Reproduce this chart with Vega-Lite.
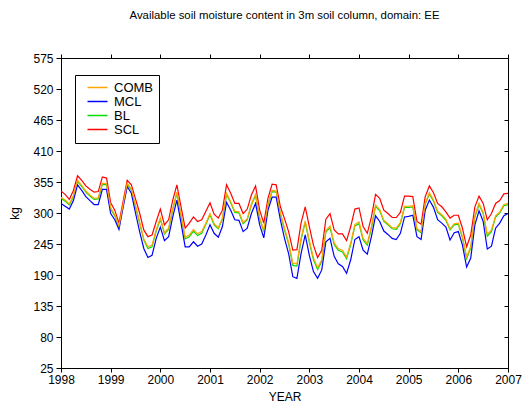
{
  "$schema": "https://vega.github.io/schema/vega-lite/v6.json",
  "width": 447,
  "height": 310,
  "autosize": {"type": "none"},
  "padding": {"left": 61, "top": 58, "right": 15, "bottom": 35},
  "title": {
    "text": "Available soil moisture content in 3m soil column, domain: EE",
    "fontSize": 11.4,
    "fontWeight": "normal",
    "color": "#000",
    "anchor": "middle",
    "offset": 31
  },
  "data": {
    "values": [
      {"t": 1998.0, "SCL": 339, "COMB": 328, "BL": 326, "MCL": 317},
      {"t": 1998.083, "SCL": 333, "COMB": 323, "BL": 321, "MCL": 312},
      {"t": 1998.167, "SCL": 324, "COMB": 316, "BL": 314, "MCL": 307},
      {"t": 1998.25, "SCL": 340, "COMB": 331, "BL": 329, "MCL": 322},
      {"t": 1998.333, "SCL": 366, "COMB": 358, "BL": 356, "MCL": 350},
      {"t": 1998.417, "SCL": 358, "COMB": 349, "BL": 347, "MCL": 340},
      {"t": 1998.5, "SCL": 348, "COMB": 339, "BL": 337, "MCL": 329},
      {"t": 1998.583, "SCL": 342, "COMB": 332, "BL": 330, "MCL": 322},
      {"t": 1998.667, "SCL": 337, "COMB": 326, "BL": 324, "MCL": 315},
      {"t": 1998.75, "SCL": 338, "COMB": 327, "BL": 325, "MCL": 315},
      {"t": 1998.833, "SCL": 364, "COMB": 353, "BL": 351, "MCL": 342},
      {"t": 1998.917, "SCL": 362, "COMB": 352, "BL": 350, "MCL": 342},
      {"t": 1999.0, "SCL": 318, "COMB": 309, "BL": 307, "MCL": 299},
      {"t": 1999.083, "SCL": 305, "COMB": 297, "BL": 295, "MCL": 288},
      {"t": 1999.167, "SCL": 282, "COMB": 277, "BL": 275, "MCL": 271},
      {"t": 1999.25, "SCL": 320, "COMB": 315, "BL": 313, "MCL": 310},
      {"t": 1999.333, "SCL": 358, "COMB": 353, "BL": 351, "MCL": 347},
      {"t": 1999.417, "SCL": 350, "COMB": 343, "BL": 341, "MCL": 335},
      {"t": 1999.5, "SCL": 325, "COMB": 313, "BL": 311, "MCL": 300},
      {"t": 1999.583, "SCL": 300, "COMB": 284, "BL": 282, "MCL": 267},
      {"t": 1999.667, "SCL": 270, "COMB": 254, "BL": 252, "MCL": 237},
      {"t": 1999.75, "SCL": 258, "COMB": 240, "BL": 237, "MCL": 221},
      {"t": 1999.833, "SCL": 261, "COMB": 243, "BL": 240, "MCL": 225},
      {"t": 1999.917, "SCL": 285, "COMB": 270, "BL": 268, "MCL": 255},
      {"t": 2000.0, "SCL": 307, "COMB": 291, "BL": 289, "MCL": 275},
      {"t": 2000.083, "SCL": 279, "COMB": 265, "BL": 263, "MCL": 251},
      {"t": 2000.167, "SCL": 288, "COMB": 273, "BL": 271, "MCL": 258},
      {"t": 2000.25, "SCL": 323, "COMB": 308, "BL": 306, "MCL": 293},
      {"t": 2000.333, "SCL": 350, "COMB": 337, "BL": 335, "MCL": 323},
      {"t": 2000.417, "SCL": 311, "COMB": 297, "BL": 295, "MCL": 282},
      {"t": 2000.5, "SCL": 273, "COMB": 257, "BL": 254, "MCL": 240},
      {"t": 2000.583, "SCL": 282, "COMB": 261, "BL": 258, "MCL": 240},
      {"t": 2000.667, "SCL": 293, "COMB": 271, "BL": 268, "MCL": 249},
      {"t": 2000.75, "SCL": 285, "COMB": 263, "BL": 260, "MCL": 241},
      {"t": 2000.833, "SCL": 288, "COMB": 267, "BL": 264, "MCL": 245},
      {"t": 2000.917, "SCL": 303, "COMB": 282, "BL": 280, "MCL": 261},
      {"t": 2001.0, "SCL": 318, "COMB": 299, "BL": 297, "MCL": 279},
      {"t": 2001.083, "SCL": 298, "COMB": 281, "BL": 279, "MCL": 264},
      {"t": 2001.167, "SCL": 291, "COMB": 274, "BL": 272, "MCL": 257},
      {"t": 2001.25, "SCL": 305, "COMB": 291, "BL": 289, "MCL": 276},
      {"t": 2001.333, "SCL": 350, "COMB": 335, "BL": 333, "MCL": 319},
      {"t": 2001.417, "SCL": 335, "COMB": 320, "BL": 318, "MCL": 305},
      {"t": 2001.5, "SCL": 317, "COMB": 303, "BL": 301, "MCL": 288},
      {"t": 2001.583, "SCL": 317, "COMB": 302, "BL": 300, "MCL": 287},
      {"t": 2001.667, "SCL": 299, "COMB": 283, "BL": 281, "MCL": 267},
      {"t": 2001.75, "SCL": 307, "COMB": 290, "BL": 288, "MCL": 273},
      {"t": 2001.833, "SCL": 332, "COMB": 316, "BL": 314, "MCL": 299},
      {"t": 2001.917, "SCL": 348, "COMB": 333, "BL": 331, "MCL": 317},
      {"t": 2002.0, "SCL": 305, "COMB": 292, "BL": 290, "MCL": 279},
      {"t": 2002.083, "SCL": 282, "COMB": 269, "BL": 267, "MCL": 256},
      {"t": 2002.167, "SCL": 326, "COMB": 316, "BL": 314, "MCL": 305},
      {"t": 2002.25, "SCL": 351, "COMB": 340, "BL": 338, "MCL": 328},
      {"t": 2002.333, "SCL": 350, "COMB": 339, "BL": 337, "MCL": 328},
      {"t": 2002.417, "SCL": 311, "COMB": 300, "BL": 298, "MCL": 288},
      {"t": 2002.5, "SCL": 290, "COMB": 273, "BL": 270, "MCL": 255},
      {"t": 2002.583, "SCL": 267, "COMB": 248, "BL": 245, "MCL": 228},
      {"t": 2002.667, "SCL": 234, "COMB": 211, "BL": 207, "MCL": 187},
      {"t": 2002.75, "SCL": 235, "COMB": 210, "BL": 206, "MCL": 184},
      {"t": 2002.833, "SCL": 282, "COMB": 255, "BL": 252, "MCL": 228},
      {"t": 2002.917, "SCL": 311, "COMB": 286, "BL": 284, "MCL": 261},
      {"t": 2003.0, "SCL": 276, "COMB": 251, "BL": 248, "MCL": 225},
      {"t": 2003.083, "SCL": 243, "COMB": 220, "BL": 217, "MCL": 196},
      {"t": 2003.167, "SCL": 221, "COMB": 203, "BL": 200, "MCL": 184},
      {"t": 2003.25, "SCL": 234, "COMB": 217, "BL": 214, "MCL": 199},
      {"t": 2003.333, "SCL": 289, "COMB": 269, "BL": 266, "MCL": 249},
      {"t": 2003.417, "SCL": 299, "COMB": 277, "BL": 274, "MCL": 255},
      {"t": 2003.5, "SCL": 270, "COMB": 247, "BL": 244, "MCL": 223},
      {"t": 2003.583, "SCL": 263, "COMB": 237, "BL": 234, "MCL": 210},
      {"t": 2003.667, "SCL": 263, "COMB": 234, "BL": 231, "MCL": 205},
      {"t": 2003.75, "SCL": 251, "COMB": 222, "BL": 219, "MCL": 193},
      {"t": 2003.833, "SCL": 276, "COMB": 247, "BL": 244, "MCL": 217},
      {"t": 2003.917, "SCL": 307, "COMB": 280, "BL": 277, "MCL": 253},
      {"t": 2004.0, "SCL": 309, "COMB": 284, "BL": 281, "MCL": 258},
      {"t": 2004.083, "SCL": 276, "COMB": 255, "BL": 252, "MCL": 234},
      {"t": 2004.167, "SCL": 264, "COMB": 246, "BL": 243, "MCL": 227},
      {"t": 2004.25, "SCL": 293, "COMB": 276, "BL": 273, "MCL": 258},
      {"t": 2004.333, "SCL": 333, "COMB": 314, "BL": 312, "MCL": 295},
      {"t": 2004.417, "SCL": 326, "COMB": 306, "BL": 304, "MCL": 285},
      {"t": 2004.5, "SCL": 305, "COMB": 287, "BL": 285, "MCL": 268},
      {"t": 2004.583, "SCL": 299, "COMB": 281, "BL": 279, "MCL": 262},
      {"t": 2004.667, "SCL": 292, "COMB": 274, "BL": 272, "MCL": 255},
      {"t": 2004.75, "SCL": 292, "COMB": 273, "BL": 271, "MCL": 253},
      {"t": 2004.833, "SCL": 301, "COMB": 283, "BL": 281, "MCL": 264},
      {"t": 2004.917, "SCL": 330, "COMB": 312, "BL": 310, "MCL": 293},
      {"t": 2005.0, "SCL": 330, "COMB": 312, "BL": 310, "MCL": 294},
      {"t": 2005.083, "SCL": 329, "COMB": 313, "BL": 311, "MCL": 296},
      {"t": 2005.167, "SCL": 285, "COMB": 272, "BL": 270, "MCL": 258},
      {"t": 2005.25, "SCL": 280, "COMB": 267, "BL": 265, "MCL": 253},
      {"t": 2005.333, "SCL": 329, "COMB": 317, "BL": 315, "MCL": 305},
      {"t": 2005.417, "SCL": 348, "COMB": 336, "BL": 334, "MCL": 323},
      {"t": 2005.5, "SCL": 336, "COMB": 323, "BL": 321, "MCL": 310},
      {"t": 2005.583, "SCL": 317, "COMB": 303, "BL": 301, "MCL": 288},
      {"t": 2005.667, "SCL": 311, "COMB": 297, "BL": 295, "MCL": 282},
      {"t": 2005.75, "SCL": 302, "COMB": 289, "BL": 287, "MCL": 275},
      {"t": 2005.833, "SCL": 291, "COMB": 272, "BL": 270, "MCL": 252},
      {"t": 2005.917, "SCL": 296, "COMB": 281, "BL": 279, "MCL": 265},
      {"t": 2006.0, "SCL": 296, "COMB": 282, "BL": 280, "MCL": 267},
      {"t": 2006.083, "SCL": 273, "COMB": 258, "BL": 256, "MCL": 243},
      {"t": 2006.167, "SCL": 240, "COMB": 222, "BL": 219, "MCL": 204},
      {"t": 2006.25, "SCL": 261, "COMB": 241, "BL": 238, "MCL": 220},
      {"t": 2006.333, "SCL": 311, "COMB": 295, "BL": 293, "MCL": 279},
      {"t": 2006.417, "SCL": 330, "COMB": 317, "BL": 315, "MCL": 304},
      {"t": 2006.5, "SCL": 317, "COMB": 301, "BL": 299, "MCL": 285},
      {"t": 2006.583, "SCL": 288, "COMB": 262, "BL": 259, "MCL": 236},
      {"t": 2006.667, "SCL": 299, "COMB": 270, "BL": 267, "MCL": 241},
      {"t": 2006.75, "SCL": 317, "COMB": 295, "BL": 293, "MCL": 273},
      {"t": 2006.833, "SCL": 322, "COMB": 302, "BL": 300, "MCL": 282},
      {"t": 2006.917, "SCL": 334, "COMB": 315, "BL": 313, "MCL": 295},
      {"t": 2007.0, "SCL": 335, "COMB": 317, "BL": 315, "MCL": 299}
    ]
  },
  "transform": [
    {"fold": ["BL", "MCL", "SCL", "COMB"], "as": ["model", "kg"]}
  ],
  "layer": [
    {
      "mark": {"type": "line", "strokeWidth": 1.2, "clip": true},
      "encoding": {
        "x": {
          "field": "t",
          "type": "quantitative",
          "scale": {"domain": [1998, 2007], "nice": false, "zero": false},
          "axis": {
            "orient": "bottom",
            "values": [1998, 1999, 2000, 2001, 2002, 2003, 2004, 2005, 2006, 2007],
            "format": "d",
            "title": "YEAR",
            "tickSize": 4,
            "labelPadding": 2,
            "titlePadding": 6,
            "labelFlush": false
          }
        },
        "y": {
          "field": "kg",
          "type": "quantitative",
          "scale": {"domain": [25, 575], "nice": false, "zero": false},
          "axis": {
            "orient": "left",
            "values": [25, 80, 135, 190, 245, 300, 355, 410, 465, 520, 575],
            "title": "kg",
            "tickSize": 5,
            "labelPadding": 3,
            "titlePadding": 11
          }
        },
        "color": {
          "field": "model",
          "type": "nominal",
          "scale": {
            "domain": ["COMB", "MCL", "BL", "SCL"],
            "range": ["#FFA500", "#0000FF", "#00DD00", "#FF0000"]
          },
          "legend": {
            "title": null,
            "orient": "none",
            "legendX": 14,
            "legendY": 17,
            "direction": "vertical",
            "strokeColor": "#000",
            "fillColor": "#fff",
            "padding": 6,
            "symbolType": "M-2,0H2",
            "symbolSize": 100,
            "symbolStrokeWidth": 1.5,
            "symbolOffset": 10,
            "labelFontSize": 13,
            "labelOffset": 10,
            "labelColor": "#000",
            "rowPadding": 0
          }
        }
      }
    },
    {
      "mark": {"type": "line", "opacity": 0},
      "encoding": {
        "x": {
          "field": "t",
          "type": "quantitative",
          "axis": {
            "orient": "top",
            "values": [1998, 1999, 2000, 2001, 2002, 2003, 2004, 2005, 2006, 2007],
            "labels": false,
            "title": null,
            "tickSize": 4
          }
        },
        "y": {
          "field": "kg",
          "type": "quantitative",
          "axis": {
            "orient": "right",
            "values": [25, 80, 135, 190, 245, 300, 355, 410, 465, 520, 575],
            "labels": false,
            "title": null,
            "tickSize": -4
          }
        },
        "detail": {"field": "model", "type": "nominal"}
      }
    }
  ],
  "resolve": {"axis": {"x": "independent", "y": "independent"}},
  "config": {
    "font": "Liberation Sans",
    "view": {"stroke": "#000", "strokeWidth": 1},
    "axis": {
      "grid": false,
      "domainColor": "#000",
      "tickColor": "#000",
      "labelColor": "#000",
      "titleColor": "#000",
      "labelFontSize": 12,
      "titleFontSize": 12,
      "titleFontWeight": "normal"
    }
  }
}
